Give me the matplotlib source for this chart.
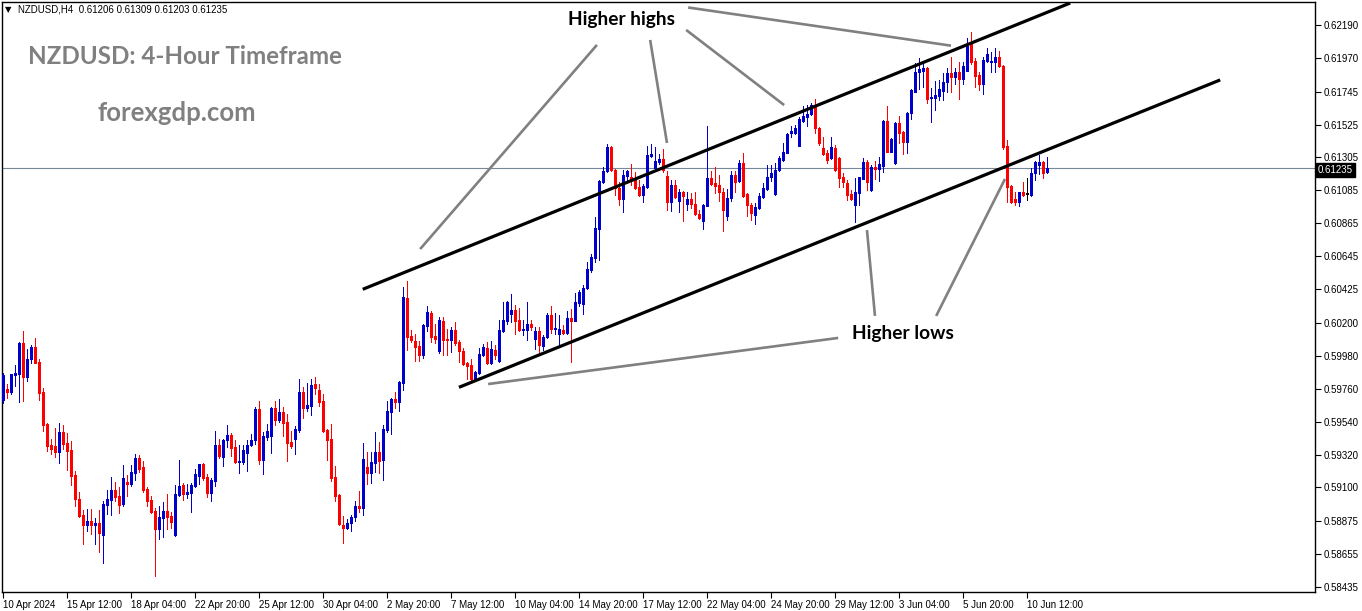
import matplotlib
matplotlib.use("Agg")
import matplotlib.pyplot as plt
import numpy as np

# ---------------- data (NZDUSD H4 candles) ----------------
opens = [0.59684,0.59756,0.59740,0.59854,0.59858,0.60067,0.59840,0.59958,0.60038,0.59938,
0.59738,0.59524,0.59384,0.59377,0.59337,0.59471,0.59397,0.59350,0.59183,0.59023,
0.58916,0.58851,0.58876,0.58851,0.58862,0.58782,0.58983,0.59016,0.59083,0.59043,
0.58989,0.59139,0.59123,0.59197,0.59297,0.59237,0.59090,0.59016,0.58943,0.58823,
0.58896,0.58943,0.58909,0.58782,0.59050,0.59117,0.59057,0.59063,0.59110,0.59177,
0.59257,0.59170,0.59063,0.59143,0.59384,0.59304,0.59417,0.59451,0.59371,0.59270,
0.59270,0.59330,0.59384,0.59417,0.59624,0.59284,0.59437,0.59444,0.59631,0.59551,
0.59604,0.59537,0.59404,0.59424,0.59484,0.59738,0.59631,0.59644,0.59791,0.59751,
0.59678,0.59484,0.59424,0.59170,0.59050,0.58849,0.58829,0.58863,0.58903,0.58976,
0.58965,0.59237,0.59197,0.59264,0.59337,0.59284,0.59484,0.59605,0.59691,0.59671,
0.59798,0.60366,0.60112,0.60079,0.60045,0.59985,0.60179,0.60266,0.60112,0.60012,
0.60212,0.60092,0.60086,0.60152,0.60072,0.60012,0.59932,0.59918,0.59825,0.59865,
0.59985,0.60032,0.59932,0.60019,0.59945,0.60146,0.60212,0.60259,0.60286,0.60219,
0.60152,0.60152,0.60192,0.60092,0.60146,0.60045,0.60106,0.60253,0.60159,0.60126,
0.60152,0.60132,0.60232,0.60212,0.60333,0.60326,0.60433,0.60553,0.60633,0.60827,
0.61141,0.61215,0.61377,0.61221,0.61103,0.61028,0.61181,0.61177,0.61161,0.61108,
0.61054,0.61108,0.61315,0.61232,0.61277,0.61295,0.61183,0.61005,0.61121,0.61014,
0.61072,0.60992,0.61028,0.60992,0.60927,0.60882,0.60983,0.61170,0.61132,0.61121,
0.61076,0.60916,0.61032,0.61188,0.61148,0.61270,0.61061,0.60987,0.60921,0.60965,
0.61043,0.61092,0.61172,0.61061,0.61221,0.61288,0.61337,0.61466,0.61471,0.61382,
0.61551,0.61578,0.61596,0.61656,0.61500,0.61366,0.61337,0.61299,0.61366,0.61299,
0.61172,0.61132,0.61061,0.60990,0.61065,0.61161,0.61277,0.61088,0.61244,0.61228,
0.61250,0.61549,0.61344,0.61266,0.61533,0.61473,0.61406,0.61600,0.61745,0.61878,
0.61885,0.61905,0.61700,0.61705,0.61718,0.61749,0.61807,0.61867,0.61845,0.61874,
0.61829,0.61883,0.62061,0.61949,0.61856,0.61794,0.61949,0.61941,0.61941,0.61978,
0.61918,0.61384,0.61117,0.61028,0.61010,0.61072,0.61059,0.61054,0.61199,0.61255,
0.61277,0.61206]
highs = [0.59867,0.59791,0.59858,0.59918,0.60070,0.60145,0.60025,0.60052,0.60099,0.59958,
0.59764,0.59528,0.59424,0.59497,0.59531,0.59517,0.59464,0.59411,0.59210,0.59070,
0.58950,0.58956,0.58956,0.58896,0.58950,0.59010,0.59083,0.59170,0.59137,0.59103,
0.59250,0.59183,0.59250,0.59324,0.59317,0.59277,0.59103,0.59043,0.58963,0.58976,
0.59003,0.59057,0.58936,0.59117,0.59284,0.59130,0.59123,0.59130,0.59223,0.59260,
0.59263,0.59190,0.59163,0.59477,0.59424,0.59424,0.59517,0.59464,0.59417,0.59384,
0.59384,0.59417,0.59457,0.59637,0.59678,0.59471,0.59524,0.59637,0.59678,0.59691,
0.59637,0.59591,0.59477,0.59511,0.59825,0.59772,0.59798,0.59825,0.59838,0.59791,
0.59724,0.59491,0.59524,0.59244,0.59057,0.58909,0.58889,0.58916,0.59010,0.59077,
0.59397,0.59337,0.59337,0.59471,0.59404,0.59518,0.59678,0.59698,0.59738,0.59812,
0.60440,0.60480,0.60152,0.60126,0.60079,0.60192,0.60313,0.60279,0.60192,0.60239,
0.60239,0.60159,0.60172,0.60206,0.60086,0.60032,0.59939,0.59959,0.59878,0.60032,
0.60059,0.60072,0.60079,0.60052,0.60219,0.60339,0.60346,0.60393,0.60319,0.60299,
0.60219,0.60339,0.60219,0.60172,0.60172,0.60119,0.60266,0.60313,0.60266,0.60253,
0.60186,0.60279,0.60293,0.60400,0.60420,0.60453,0.60607,0.60660,0.60907,0.61155,
0.61244,0.61395,0.61382,0.61228,0.61139,0.61221,0.61221,0.61261,0.61206,0.61154,
0.61125,0.61384,0.61393,0.61373,0.61326,0.61362,0.61215,0.61154,0.61154,0.61094,
0.61081,0.61076,0.61065,0.61072,0.60954,0.60992,0.61515,0.61215,0.61244,0.61188,
0.61099,0.61092,0.61215,0.61215,0.61288,0.61333,0.61065,0.61003,0.60998,0.61065,
0.61132,0.61255,0.61255,0.61270,0.61315,0.61400,0.61466,0.61515,0.61522,0.61578,
0.61649,0.61656,0.61671,0.61693,0.61511,0.61444,0.61355,0.61444,0.61388,0.61310,
0.61199,0.61154,0.61088,0.61166,0.61175,0.61304,0.61288,0.61255,0.61281,0.61310,
0.61555,0.61651,0.61437,0.61544,0.61584,0.61482,0.61607,0.61762,0.61934,0.61972,
0.61949,0.61912,0.61771,0.61816,0.61823,0.61867,0.61905,0.61978,0.61900,0.61941,
0.61941,0.62101,0.62145,0.61967,0.61878,0.61978,0.62039,0.62007,0.62039,0.62016,
0.61923,0.61422,0.61121,0.61072,0.61076,0.61139,0.61166,0.61237,0.61281,0.61321,
0.61281,0.61309]
lows = [0.59666,0.59700,0.59727,0.59778,0.59673,0.59680,0.59813,0.59929,0.59929,0.59684,
0.59480,0.59346,0.59326,0.59306,0.59266,0.59355,0.59217,0.59117,0.58976,0.58901,
0.58722,0.58809,0.58789,0.58722,0.58669,0.58595,0.58923,0.58916,0.59010,0.58930,
0.58976,0.59043,0.59110,0.59150,0.59203,0.59070,0.58976,0.58930,0.58509,0.58756,
0.58770,0.58823,0.58829,0.58775,0.59045,0.59016,0.59030,0.58936,0.59103,0.59123,
0.59150,0.59036,0.59010,0.59110,0.59297,0.59243,0.59371,0.59310,0.59265,0.59197,
0.59257,0.59210,0.59377,0.59390,0.59257,0.59190,0.59417,0.59330,0.59517,0.59537,
0.59444,0.59277,0.59364,0.59324,0.59471,0.59564,0.59611,0.59584,0.59724,0.59644,
0.59471,0.59284,0.59143,0.59010,0.58849,0.58729,0.58823,0.58809,0.58876,0.58936,
0.58916,0.59123,0.59130,0.59204,0.59197,0.59150,0.59471,0.59458,0.59631,0.59611,
0.59751,0.60019,0.60072,0.59945,0.59945,0.59965,0.60146,0.60072,0.60065,0.59999,
0.59985,0.59985,0.60005,0.60052,0.59939,0.59918,0.59825,0.59818,0.59812,0.59858,
0.59979,0.59925,0.59925,0.59959,0.59939,0.60139,0.60192,0.60206,0.60126,0.60146,
0.60119,0.60086,0.60152,0.60025,0.60005,0.60019,0.60099,0.60132,0.60126,0.60059,
0.60126,0.60126,0.59939,0.60210,0.60313,0.60259,0.60426,0.60540,0.60606,0.60620,
0.61132,0.61206,0.61215,0.61054,0.60987,0.60943,0.61154,0.61121,0.61094,0.61050,
0.61005,0.61100,0.61310,0.61215,0.61259,0.61206,0.60954,0.60947,0.61036,0.60943,
0.60880,0.60954,0.60965,0.60921,0.60894,0.60827,0.60980,0.61121,0.61065,0.61014,
0.60813,0.60887,0.61014,0.61076,0.61143,0.61043,0.60914,0.60887,0.60861,0.60958,
0.61032,0.61088,0.61150,0.61055,0.61217,0.61284,0.61335,0.61440,0.61462,0.61380,
0.61544,0.61515,0.61589,0.61466,0.61388,0.61321,0.61270,0.61292,0.61215,0.61106,
0.61110,0.61021,0.61021,0.60876,0.60987,0.61158,0.61088,0.61081,0.61161,0.61148,
0.61210,0.61339,0.61339,0.61259,0.61399,0.61326,0.61333,0.61562,0.61740,0.61762,
0.61778,0.61667,0.61544,0.61622,0.61689,0.61689,0.61745,0.61745,0.61794,0.61696,
0.61794,0.61880,0.61927,0.61778,0.61756,0.61727,0.61941,0.61878,0.61878,0.61912,
0.61362,0.61010,0.60999,0.60987,0.60983,0.61050,0.61021,0.61050,0.61154,0.61192,
0.61166,0.61203]
closes = [0.59851,0.59740,0.59858,0.59867,0.60067,0.59840,0.59958,0.60038,0.59934,0.59733,
0.59517,0.59379,0.59359,0.59337,0.59471,0.59393,0.59346,0.59179,0.59023,0.58909,
0.58849,0.58876,0.58851,0.58862,0.58798,0.58989,0.59023,0.59083,0.59039,0.58983,
0.59163,0.59123,0.59203,0.59297,0.59223,0.59083,0.59010,0.58936,0.58823,0.58903,
0.58943,0.58903,0.58869,0.59057,0.59110,0.59057,0.59070,0.59117,0.59190,0.59257,
0.59163,0.59063,0.59150,0.59384,0.59310,0.59417,0.59451,0.59364,0.59270,0.59277,
0.59350,0.59384,0.59417,0.59624,0.59284,0.59444,0.59477,0.59631,0.59551,0.59604,
0.59531,0.59397,0.59377,0.59491,0.59738,0.59631,0.59651,0.59785,0.59764,0.59671,
0.59477,0.59417,0.59163,0.59043,0.58856,0.58829,0.58862,0.58903,0.58976,0.58965,
0.59290,0.59197,0.59270,0.59337,0.59277,0.59491,0.59611,0.59691,0.59671,0.59805,
0.60373,0.60106,0.60086,0.60039,0.59985,0.60186,0.60273,0.60106,0.60092,0.60219,
0.60086,0.60086,0.60152,0.60065,0.60012,0.59925,0.59912,0.59825,0.59872,0.59992,
0.60039,0.59932,0.60025,0.59985,0.60152,0.60219,0.60339,0.60286,0.60212,0.60152,
0.60159,0.60192,0.60172,0.60146,0.60052,0.60106,0.60253,0.60159,0.60166,0.60159,
0.60132,0.60232,0.60212,0.60339,0.60406,0.60433,0.60560,0.60640,0.60834,0.61148,
0.61215,0.61377,0.61221,0.61099,0.61028,0.61188,0.61215,0.61161,0.61103,0.61054,
0.61116,0.61321,0.61328,0.61281,0.61295,0.61221,0.61005,0.61121,0.61043,0.61072,
0.61050,0.61028,0.60992,0.60925,0.60898,0.60987,0.61170,0.61125,0.61117,0.61076,
0.60954,0.61032,0.61188,0.61143,0.61266,0.61048,0.60987,0.60936,0.60972,0.61048,
0.61099,0.61172,0.61203,0.61221,0.61299,0.61344,0.61462,0.61484,0.61500,0.61560,
0.61582,0.61596,0.61656,0.61500,0.61400,0.61328,0.61288,0.61373,0.61221,0.61166,
0.61144,0.61054,0.61025,0.61077,0.61172,0.61277,0.61139,0.61244,0.61228,0.61259,
0.61549,0.61344,0.61428,0.61533,0.61466,0.61406,0.61600,0.61756,0.61878,0.61896,
0.61905,0.61696,0.61711,0.61722,0.61762,0.61807,0.61867,0.61845,0.61874,0.61829,
0.61918,0.62052,0.61945,0.61851,0.61794,0.61956,0.61994,0.61949,0.61978,0.61918,
0.61377,0.61110,0.61005,0.61010,0.61072,0.61054,0.61059,0.61199,0.61272,0.61277,
0.61199,0.61235]

time_labels = ["10 Apr 2024", "15 Apr 12:00", "18 Apr 04:00", "22 Apr 20:00", "25 Apr 12:00",
               "30 Apr 04:00", "2 May 20:00", "7 May 12:00", "10 May 04:00", "14 May 20:00",
               "17 May 12:00", "22 May 04:00", "24 May 20:00", "29 May 12:00", "3 Jun 04:00",
               "5 Jun 20:00", "10 Jun 12:00"]
label_every = 16
price_ticks = [0.62190, 0.61970, 0.61745, 0.61525, 0.61305, 0.61085, 0.60865, 0.60645,
               0.60425, 0.60200, 0.59980, 0.59760, 0.59540, 0.59320, 0.59100, 0.58875,
               0.58655, 0.58435]
current_price = 0.61235
header = "NZDUSD,H4  0.61206 0.61309 0.61203 0.61235"

# channel lines (bar index, price)
upper_channel = ([89.85, 266.7], [0.60424, 0.62337])
lower_channel = ([113.9, 304.2], [0.59769, 0.61823])
# grey pointer lines (bar index pairs, price pairs)
pointer_lines = [
    ([104.2, 148.4], [0.60693, 0.62057]),
    ([161.7, 165.9], [0.62090, 0.61402]),
    ([170.7, 195.2], [0.62157, 0.61655]),
    ([171.2, 236.9], [0.62307, 0.62052]),
    ([121.2, 208.7], [0.59791, 0.60099]),
    ([215.9, 217.9], [0.60820, 0.60246]),
    ([233.2, 250.4], [0.60246, 0.61161]),
]

# ---------------- figure ----------------
W, H = 1362, 611
fig = plt.figure(figsize=(W / 100, H / 100), dpi=100)
fig.patch.set_facecolor("white")
ax = fig.add_axes([2 / W, 19 / H, 1313 / W, 590 / H])
ax.set_facecolor("white")

o = np.array(opens); h = np.array(highs); l = np.array(lows); c = np.array(closes)
x = np.arange(len(o))
bull = c > o
bear = c < o
BLUE = "#0000cc"
RED = "#ff0000"
cols = np.where(bull, BLUE, np.where(bear, RED, "#000000"))

PX = 72 / 100  # one pixel in points
ax.vlines(x, l, h, colors=cols, linewidth=1 * PX, antialiased=False, zorder=3)
body_lo = np.minimum(o, c)
body_hi = np.maximum(o, c)
min_h = 0.00007
body_hi = np.where(body_hi - body_lo < min_h, body_lo + min_h, body_hi)
ax.vlines(x, body_lo, body_hi, colors=cols, linewidth=3 * PX, antialiased=False,
          zorder=3)

# current price line
ax.axhline(current_price, color="#778899", linewidth=0.8, zorder=2)

# channel and pointer lines
ax.plot(*upper_channel, color="black", linewidth=2.3, solid_capstyle="butt", zorder=4)
ax.plot(*lower_channel, color="black", linewidth=2.3, solid_capstyle="butt", zorder=4)
for xs, ys in pointer_lines:
    ax.plot(xs, ys, color="#808080", linewidth=1.9, solid_capstyle="butt", zorder=4)

ax.set_xlim(-0.33, 327.9)
ax.set_ylim(0.584014, 0.623437)

# axes styling
for sp in ax.spines.values():
    sp.set_color("black")
    sp.set_linewidth(1.0)
ax.yaxis.tick_right()
ax.set_yticks(price_ticks)
ax.set_yticklabels([f"{v:.5f}" for v in price_ticks], family="Liberation Sans")
ax.tick_params(axis="y", direction="out", length=4, width=0.8, pad=2,
               labelsize=7, colors="black")
xt = [i * label_every for i in range(len(time_labels))]
ax.set_xticks(xt)
ax.set_xticklabels(time_labels, family="Liberation Sans")
ax.tick_params(axis="x", direction="out", length=4, width=0.8, pad=2,
               labelsize=7, colors="black")
for t in ax.get_xticklabels():
    t.set_ha("left")

def fx(px):
    return px / W
def fy(py):
    return 1 - py / H

# current price tag on axis
fig.text(fx(1318), fy(170), f"{current_price:.5f}", color="white", fontsize=7,
         family="Liberation Sans", va="center", ha="left",
         bbox=dict(boxstyle="square,pad=0.2", facecolor="black", edgecolor="black"))

# header
fig.text(fx(5), fy(10), "\u25BC", fontsize=6, va="center", ha="left", color="black")
fig.text(fx(18), fy(10), header, fontsize=7, family="Liberation Sans",
         va="center", ha="left", color="black")

# watermark titles
fig.text(fx(28), fy(57), "NZDUSD: 4-Hour Timeframe", fontsize=17.4, fontweight="bold",
         family="Lato", color="#808080", va="center", ha="left")
fig.text(fx(97), fy(113), "forexgdp.com", fontsize=18.5, fontweight="bold",
         family="Lato", color="#808080", va="center", ha="left")

# annotations
fig.text(fx(568), fy(19), "Higher highs", fontsize=13.8, fontweight="bold",
         family="Lato", color="black", va="center", ha="left")
fig.text(fx(852), fy(333), "Higher lows", fontsize=13.8, fontweight="bold",
         family="Lato", color="black", va="center", ha="left")

fig.savefig("out.png", dpi=100, facecolor="white")
